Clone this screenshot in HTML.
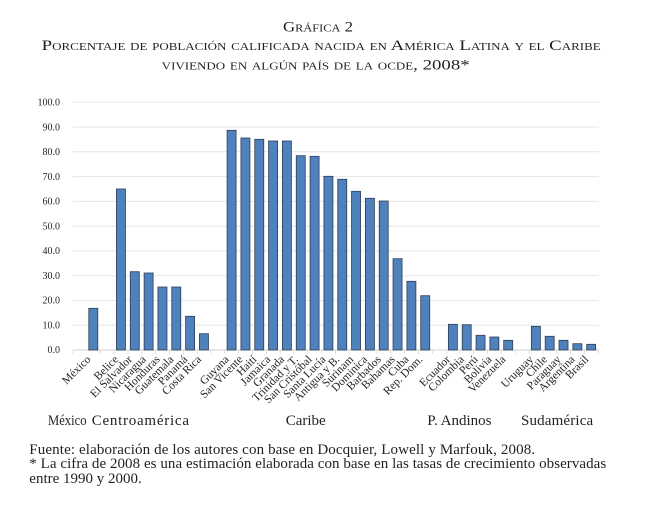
<!DOCTYPE html>
<html>
<head>
<meta charset="utf-8">
<style>
html,body{margin:0;padding:0;background:#fff;}
body{position:relative;width:650px;height:512px;overflow:hidden;}
svg{display:block;position:absolute;left:0;top:0;}
svg text{font-family:"Liberation Serif",serif;fill:#231f20;}
.sc{font-variant:small-caps;}
.bar{fill:#4f81bd;stroke:#2c3e57;stroke-width:0.8;}
.t{position:absolute;font-family:"Liberation Serif",serif;color:#231f20;white-space:nowrap;line-height:1;}
.g{font-size:15px;top:414.4px;}
.f{font-size:15px;left:29.3px;}
</style>
</head>
<body>
<svg width="650" height="512" viewBox="0 0 650 512" xmlns="http://www.w3.org/2000/svg">
<rect width="650" height="512" fill="#fff"/>
<!-- Title -->
<text class="sc" x="283" y="31.7" font-size="15" textLength="70" lengthAdjust="spacingAndGlyphs">Gráfica 2</text>
<text class="sc" x="41.7" y="50" font-size="14.5" textLength="559" lengthAdjust="spacingAndGlyphs">Porcentaje de población calificada nacida en América Latina y el Caribe</text>
<text class="sc" x="161.7" y="69.3" font-size="14.5" textLength="308" lengthAdjust="spacingAndGlyphs">viviendo en algún país de la ocde, 2008*</text>

<!-- Gridlines -->
<g stroke="#e6e6e6" stroke-width="1">
<line x1="72.8" x2="598.8" y1="102.3" y2="102.3"/>
<line x1="72.8" x2="598.8" y1="127.1" y2="127.1"/>
<line x1="72.8" x2="598.8" y1="151.8" y2="151.8"/>
<line x1="72.8" x2="598.8" y1="176.6" y2="176.6"/>
<line x1="72.8" x2="598.8" y1="201.4" y2="201.4"/>
<line x1="72.8" x2="598.8" y1="226.2" y2="226.2"/>
<line x1="72.8" x2="598.8" y1="250.9" y2="250.9"/>
<line x1="72.8" x2="598.8" y1="275.7" y2="275.7"/>
<line x1="72.8" x2="598.8" y1="300.5" y2="300.5"/>
<line x1="72.8" x2="598.8" y1="325.2" y2="325.2"/>
</g>
<line x1="72.8" x2="598.8" y1="350" y2="350" stroke="#d0d0d0" stroke-width="1"/>
<!-- ticks -->
<g stroke="#d9d9d9" stroke-width="0.8">
<line x1="72.8" x2="72.8" y1="350" y2="354"/>
<line x1="100.5" x2="100.5" y1="350" y2="354"/>
<line x1="114.3" x2="114.3" y1="350" y2="354"/>
<line x1="128.1" x2="128.1" y1="350" y2="354"/>
<line x1="141.9" x2="141.9" y1="350" y2="354"/>
<line x1="155.8" x2="155.8" y1="350" y2="354"/>
<line x1="169.6" x2="169.6" y1="350" y2="354"/>
<line x1="183.4" x2="183.4" y1="350" y2="354"/>
<line x1="197.2" x2="197.2" y1="350" y2="354"/>
<line x1="211.1" x2="211.1" y1="350" y2="354"/>
<line x1="224.9" x2="224.9" y1="350" y2="354"/>
<line x1="238.7" x2="238.7" y1="350" y2="354"/>
<line x1="252.5" x2="252.5" y1="350" y2="354"/>
<line x1="266.4" x2="266.4" y1="350" y2="354"/>
<line x1="280.2" x2="280.2" y1="350" y2="354"/>
<line x1="294.0" x2="294.0" y1="350" y2="354"/>
<line x1="307.8" x2="307.8" y1="350" y2="354"/>
<line x1="321.7" x2="321.7" y1="350" y2="354"/>
<line x1="335.5" x2="335.5" y1="350" y2="354"/>
<line x1="349.3" x2="349.3" y1="350" y2="354"/>
<line x1="363.1" x2="363.1" y1="350" y2="354"/>
<line x1="377.0" x2="377.0" y1="350" y2="354"/>
<line x1="390.8" x2="390.8" y1="350" y2="354"/>
<line x1="404.6" x2="404.6" y1="350" y2="354"/>
<line x1="418.4" x2="418.4" y1="350" y2="354"/>
<line x1="432.3" x2="432.3" y1="350" y2="354"/>
<line x1="446.1" x2="446.1" y1="350" y2="354"/>
<line x1="459.9" x2="459.9" y1="350" y2="354"/>
<line x1="473.7" x2="473.7" y1="350" y2="354"/>
<line x1="487.6" x2="487.6" y1="350" y2="354"/>
<line x1="501.4" x2="501.4" y1="350" y2="354"/>
<line x1="515.2" x2="515.2" y1="350" y2="354"/>
<line x1="529.0" x2="529.0" y1="350" y2="354"/>
<line x1="542.9" x2="542.9" y1="350" y2="354"/>
<line x1="556.7" x2="556.7" y1="350" y2="354"/>
<line x1="570.5" x2="570.5" y1="350" y2="354"/>
<line x1="584.3" x2="584.3" y1="350" y2="354"/>
<line x1="598.2" x2="598.2" y1="350" y2="354"/>
</g>

<!-- Y labels -->
<g text-anchor="end" font-size="10">
<text x="60" y="105.5" fill="#333">100.0</text>
<text x="60" y="130.3" fill="#333">90.0</text>
<text x="60" y="155" fill="#333">80.0</text>
<text x="60" y="179.8" fill="#333">70.0</text>
<text x="60" y="204.6" fill="#333">60.0</text>
<text x="60" y="229.4" fill="#333">50.0</text>
<text x="60" y="254.1" fill="#333">40.0</text>
<text x="60" y="278.9" fill="#333">30.0</text>
<text x="60" y="303.7" fill="#333">20.0</text>
<text x="60" y="328.4" fill="#333">10.0</text>
<text x="60" y="353.2" fill="#333">0.0</text>
</g>

<!-- Bars -->
<g class="bar">
<rect x="88.8" y="308.3" width="9" height="41.7"/>
<rect x="116.46" y="189" width="9" height="161"/>
<rect x="130.29" y="271.7" width="9" height="78.3"/>
<rect x="144.12" y="273" width="9" height="77"/>
<rect x="157.95" y="287" width="9" height="63"/>
<rect x="171.78" y="287" width="9" height="63"/>
<rect x="185.61" y="316.3" width="9" height="33.7"/>
<rect x="199.44" y="333.7" width="9" height="16.3"/>
<rect x="227.1" y="130.3" width="9" height="219.7"/>
<rect x="240.93" y="138" width="9" height="212"/>
<rect x="254.76" y="139.3" width="9" height="210.7"/>
<rect x="268.59" y="141" width="9" height="209"/>
<rect x="282.42" y="141" width="9" height="209"/>
<rect x="296.25" y="155.7" width="9" height="194.3"/>
<rect x="310.08" y="156.3" width="9" height="193.7"/>
<rect x="323.91" y="176.3" width="9" height="173.7"/>
<rect x="337.74" y="179.3" width="9" height="170.7"/>
<rect x="351.57" y="191.3" width="9" height="158.7"/>
<rect x="365.4" y="198.3" width="9" height="151.7"/>
<rect x="379.23" y="201" width="9" height="149"/>
<rect x="393.06" y="258.7" width="9" height="91.3"/>
<rect x="406.89" y="281.3" width="9" height="68.7"/>
<rect x="420.72" y="295.7" width="9" height="54.3"/>
<rect x="448.38" y="324.3" width="9" height="25.7"/>
<rect x="462.21" y="324.7" width="9" height="25.3"/>
<rect x="476.04" y="335.3" width="9" height="14.7"/>
<rect x="489.87" y="337" width="9" height="13"/>
<rect x="503.7" y="340.3" width="9" height="9.7"/>
<rect x="531.36" y="326.3" width="9" height="23.7"/>
<rect x="545.19" y="336.3" width="9" height="13.7"/>
<rect x="559.02" y="340.3" width="9" height="9.7"/>
<rect x="572.85" y="343.7" width="9" height="6.3"/>
<rect x="586.68" y="344.3" width="9" height="5.7"/>
</g>

<!-- Category labels -->
<g text-anchor="end" font-size="11.5">
<text transform="translate(91.3,360) rotate(-45)">México</text>
<text transform="translate(119,360) rotate(-45)">Belice</text>
<text transform="translate(132.8,360) rotate(-45)">El Salvador</text>
<text transform="translate(146.6,360) rotate(-45)">Nicaragua</text>
<text transform="translate(160.5,360) rotate(-45)">Honduras</text>
<text transform="translate(174.3,360) rotate(-45)">Guatemala</text>
<text transform="translate(188.1,360) rotate(-45)">Panamá</text>
<text transform="translate(201.9,360) rotate(-45)">Costa Rica</text>
<text transform="translate(229.6,360) rotate(-45)">Guyana</text>
<text transform="translate(243.4,360) rotate(-45)">San Vicente</text>
<text transform="translate(257.3,360) rotate(-45)">Haití</text>
<text transform="translate(271.1,360) rotate(-45)">Jamaica</text>
<text transform="translate(284.9,360) rotate(-45)">Granada</text>
<text transform="translate(298.8,360) rotate(-45)">Trinidad y T.</text>
<text transform="translate(312.6,360) rotate(-45)">San Cristóbal</text>
<text transform="translate(326.4,360) rotate(-45)">Santa Lucía</text>
<text transform="translate(340.2,360) rotate(-45)">Antigua y B.</text>
<text transform="translate(354.1,360) rotate(-45)">Surinam</text>
<text transform="translate(367.9,360) rotate(-45)">Dominica</text>
<text transform="translate(381.7,360) rotate(-45)">Barbados</text>
<text transform="translate(395.6,360) rotate(-45)">Bahamas</text>
<text transform="translate(409.4,360) rotate(-45)">Cuba</text>
<text transform="translate(423.2,360) rotate(-45)">Rep. Dom.</text>
<text transform="translate(450.9,360) rotate(-45)">Ecuador</text>
<text transform="translate(464.7,360) rotate(-45)">Colombia</text>
<text transform="translate(478.5,360) rotate(-45)">Perú</text>
<text transform="translate(492.4,360) rotate(-45)">Bolivia</text>
<text transform="translate(506.2,360) rotate(-45)">Venezuela</text>
<text transform="translate(533.9,360) rotate(-45)">Uruguay</text>
<text transform="translate(547.7,360) rotate(-45)">Chile</text>
<text transform="translate(561.5,360) rotate(-45)">Paraguay</text>
<text transform="translate(575.4,360) rotate(-45)">Argentina</text>
<text transform="translate(589.2,360) rotate(-45)">Brasil</text>
</g>
</svg>

<!-- Group labels -->
<div class="t g" style="left:48.3px;transform:scaleX(0.84);transform-origin:0 0;">México</div>
<div class="t g" style="left:91.7px;letter-spacing:0.75px;">Centroamérica</div>
<div class="t g" style="left:285.7px;">Caribe</div>
<div class="t g" style="left:427.3px;">P. Andinos</div>
<div class="t g" style="left:521px;letter-spacing:0.15px;">Sudamérica</div>

<!-- Footnotes -->
<div class="t f" style="top:443.2px;letter-spacing:0.12px;">Fuente: elaboración de los autores con base en Docquier, Lowell y Marfouk, 2008.</div>
<div class="t f" style="top:457.4px;letter-spacing:0.05px;">* La cifra de 2008 es una estimación elaborada con base en las tasas de crecimiento observadas</div>
<div class="t f" style="top:471.6px;">entre 1990 y 2000.</div>
</body>
</html>
